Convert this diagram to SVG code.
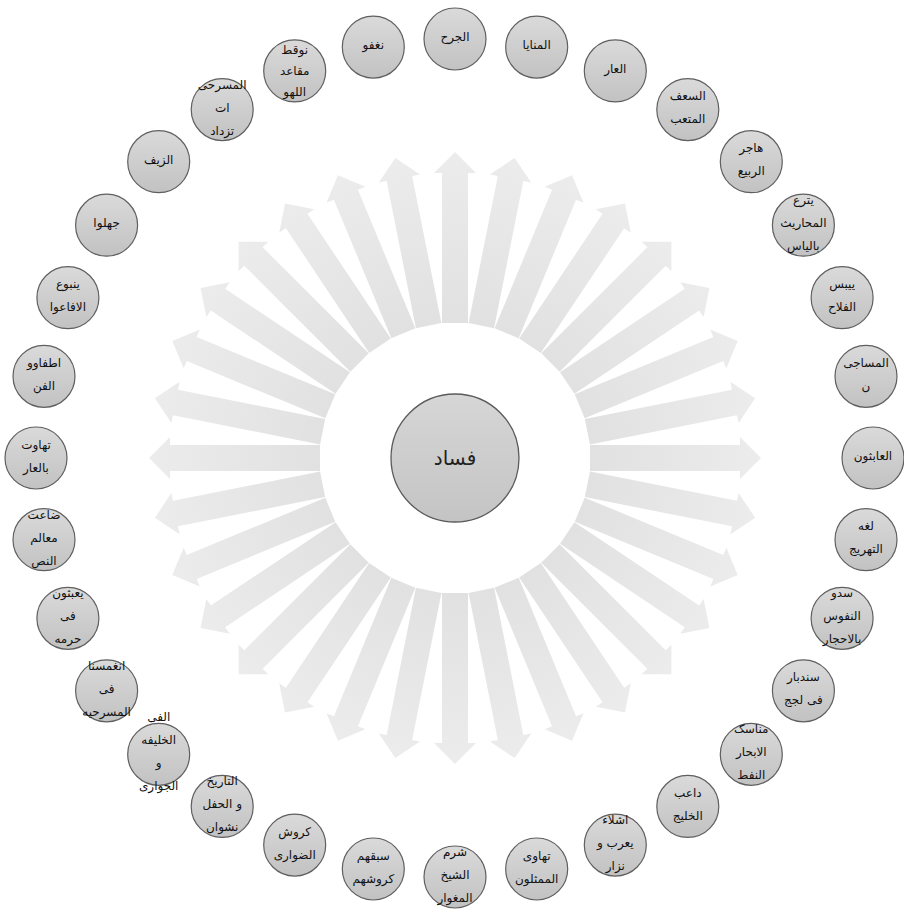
<svg xmlns="http://www.w3.org/2000/svg" xmlns:xlink="http://www.w3.org/1999/xlink" width="904" height="909" viewBox="0 0 904 909">
<style>
.n circle{fill:url(#ng);stroke:#5f5f5f;stroke-width:1.2}
.n text{font-family:"DejaVu Sans",sans-serif;font-size:12px;fill:#111;text-anchor:middle}
.c circle{fill:url(#cg);stroke:#5a5a5a;stroke-width:1.3}
.c text{font-family:"DejaVu Sans",sans-serif;font-size:20px;fill:#222;text-anchor:middle}
.ar{fill:url(#ag)}
</style>
<defs>
<linearGradient id="ng" x1="0" y1="0" x2="0" y2="1"><stop offset="0" stop-color="#dadada"/><stop offset="1" stop-color="#c2c2c2"/></linearGradient>
<linearGradient id="cg" x1="0" y1="0" x2="0" y2="1"><stop offset="0" stop-color="#d6d6d6"/><stop offset="1" stop-color="#c4c4c4"/></linearGradient>
<linearGradient id="ag" x1="0" y1="0" x2="0" y2="1"><stop offset="0" stop-color="#ececec"/><stop offset="1" stop-color="#e1e1e1"/></linearGradient>
<path id="arrow" class="ar" d="M-13,-135 L-13,-285 L-21,-285 L0,-306 L21,-285 L13,-285 L13,-135 Z"/>
</defs>
<rect width="904" height="909" fill="#fff"/>
<g id="connectors" transform="translate(455,458)">
<use xlink:href="#arrow" transform="rotate(0)"/>
<use xlink:href="#arrow" transform="rotate(11.25)"/>
<use xlink:href="#arrow" transform="rotate(22.5)"/>
<use xlink:href="#arrow" transform="rotate(33.75)"/>
<use xlink:href="#arrow" transform="rotate(45)"/>
<use xlink:href="#arrow" transform="rotate(56.25)"/>
<use xlink:href="#arrow" transform="rotate(67.5)"/>
<use xlink:href="#arrow" transform="rotate(78.75)"/>
<use xlink:href="#arrow" transform="rotate(90)"/>
<use xlink:href="#arrow" transform="rotate(101.25)"/>
<use xlink:href="#arrow" transform="rotate(112.5)"/>
<use xlink:href="#arrow" transform="rotate(123.75)"/>
<use xlink:href="#arrow" transform="rotate(135)"/>
<use xlink:href="#arrow" transform="rotate(146.25)"/>
<use xlink:href="#arrow" transform="rotate(157.5)"/>
<use xlink:href="#arrow" transform="rotate(168.75)"/>
<use xlink:href="#arrow" transform="rotate(180)"/>
<use xlink:href="#arrow" transform="rotate(191.25)"/>
<use xlink:href="#arrow" transform="rotate(202.5)"/>
<use xlink:href="#arrow" transform="rotate(213.75)"/>
<use xlink:href="#arrow" transform="rotate(225)"/>
<use xlink:href="#arrow" transform="rotate(236.25)"/>
<use xlink:href="#arrow" transform="rotate(247.5)"/>
<use xlink:href="#arrow" transform="rotate(258.75)"/>
<use xlink:href="#arrow" transform="rotate(270)"/>
<use xlink:href="#arrow" transform="rotate(281.25)"/>
<use xlink:href="#arrow" transform="rotate(292.5)"/>
<use xlink:href="#arrow" transform="rotate(303.75)"/>
<use xlink:href="#arrow" transform="rotate(315)"/>
<use xlink:href="#arrow" transform="rotate(326.25)"/>
<use xlink:href="#arrow" transform="rotate(337.5)"/>
<use xlink:href="#arrow" transform="rotate(348.75)"/>
</g>
<g id="center" class="c"><circle cx="455" cy="458" r="64"/><text x="455" y="465">فساد</text></g>
<g id="n0" class="n"><circle cx="455" cy="39" r="31"/><text x="455" y="41">الجرح</text></g>
<g id="n1" class="n"><circle cx="536.7" cy="47.1" r="31"/><text x="536.7" y="49">المنايا</text></g>
<g id="n2" class="n"><circle cx="615.3" cy="70.9" r="31"/><text x="615.3" y="73">العار</text></g>
<g id="n3" class="n"><circle cx="687.8" cy="109.6" r="31"/><text x="687.8" y="100">السعف</text><text x="687.8" y="123">المتعب</text></g>
<g id="n4" class="n"><circle cx="751.3" cy="161.7" r="31"/><text x="751.3" y="152">هاجر</text><text x="751.3" y="175">الربيع</text></g>
<g id="n5" class="n"><circle cx="803.4" cy="225.2" r="31"/><text x="803.4" y="204">يترع</text><text x="803.4" y="227">المحاريث</text><text x="803.4" y="250">بالياس</text></g>
<g id="n6" class="n"><circle cx="842.1" cy="297.7" r="31"/><text x="842.1" y="288">ييبس</text><text x="842.1" y="311">الفلاح</text></g>
<g id="n7" class="n"><circle cx="866" cy="376.3" r="31"/><text x="866" y="367">المساجی</text><text x="866" y="390">ن</text></g>
<g id="n8" class="n"><circle cx="873" cy="458" r="31"/><text x="873" y="460">العابثون</text></g>
<g id="n9" class="n"><circle cx="866" cy="539.7" r="31"/><text x="866" y="530">لغه</text><text x="866" y="553">التهريج</text></g>
<g id="n10" class="n"><circle cx="842.1" cy="618.3" r="31"/><text x="842.1" y="597">سدو</text><text x="842.1" y="620">النفوس</text><text x="842.1" y="643">بالاحجار</text></g>
<g id="n11" class="n"><circle cx="803.4" cy="690.8" r="31"/><text x="803.4" y="681">سندبار</text><text x="803.4" y="704">فی لجج</text></g>
<g id="n12" class="n"><circle cx="751.3" cy="754.3" r="31"/><text x="751.3" y="733">مناسک</text><text x="751.3" y="756">الابحار</text><text x="751.3" y="779">النفط</text></g>
<g id="n13" class="n"><circle cx="687.8" cy="806.4" r="31"/><text x="687.8" y="797">داعب</text><text x="687.8" y="820">الخليج</text></g>
<g id="n14" class="n"><circle cx="615.3" cy="845.1" r="31"/><text x="615.3" y="824">اشلاء</text><text x="615.3" y="847">يعرب و</text><text x="615.3" y="870">نزار</text></g>
<g id="n15" class="n"><circle cx="536.7" cy="869" r="31"/><text x="536.7" y="860">تهاوی</text><text x="536.7" y="883">الممثلون</text></g>
<g id="n16" class="n"><circle cx="455" cy="877" r="31"/><text x="455" y="856">شرم</text><text x="455" y="879">الشيخ</text><text x="455" y="902">المغوار</text></g>
<g id="n17" class="n"><circle cx="373.3" cy="869" r="31"/><text x="373.3" y="860">سبقهم</text><text x="373.3" y="883">کروشهم</text></g>
<g id="n18" class="n"><circle cx="294.7" cy="845.1" r="31"/><text x="294.7" y="836">کروش</text><text x="294.7" y="859">الضواری</text></g>
<g id="n19" class="n"><circle cx="222.2" cy="806.4" r="31"/><text x="222.2" y="785">التاريخ</text><text x="222.2" y="808">و الحفل</text><text x="222.2" y="831">نشوان</text></g>
<g id="n20" class="n"><circle cx="158.7" cy="754.3" r="31"/><text x="158.7" y="721">الفی</text><text x="158.7" y="744">الخليفه</text><text x="158.7" y="767">و</text><text x="158.7" y="790">الجواری</text></g>
<g id="n21" class="n"><circle cx="106.6" cy="690.8" r="31"/><text x="106.6" y="670">انغمسنا</text><text x="106.6" y="693">فی</text><text x="106.6" y="716">المسرحيه</text></g>
<g id="n22" class="n"><circle cx="67.9" cy="618.3" r="31"/><text x="67.9" y="597">يعبثون</text><text x="67.9" y="620">فی</text><text x="67.9" y="643">حرمه</text></g>
<g id="n23" class="n"><circle cx="44" cy="539.7" r="31"/><text x="44" y="519">ضاعت</text><text x="44" y="542">معالم</text><text x="44" y="565">النص</text></g>
<g id="n24" class="n"><circle cx="36" cy="458" r="31"/><text x="36" y="449">تهاوت</text><text x="36" y="472">بالعار</text></g>
<g id="n25" class="n"><circle cx="44" cy="376.3" r="31"/><text x="44" y="367">اطفاوو</text><text x="44" y="390">الفن</text></g>
<g id="n26" class="n"><circle cx="67.9" cy="297.7" r="31"/><text x="67.9" y="288">ينبوع</text><text x="67.9" y="311">الافاعوا</text></g>
<g id="n27" class="n"><circle cx="106.6" cy="225.2" r="31"/><text x="106.6" y="227">جهلوا</text></g>
<g id="n28" class="n"><circle cx="158.7" cy="161.7" r="31"/><text x="158.7" y="164">الزيف</text></g>
<g id="n29" class="n"><circle cx="222.2" cy="109.6" r="31"/><text x="222.2" y="89">المسرحی</text><text x="222.2" y="112">ات</text><text x="222.2" y="135">تزداد</text></g>
<g id="n30" class="n"><circle cx="294.7" cy="70.9" r="31"/><text x="294.7" y="54">نوقط</text><text x="294.7" y="75">مقاعد</text><text x="294.7" y="96">اللهو</text></g>
<g id="n31" class="n"><circle cx="373.3" cy="47.1" r="31"/><text x="373.3" y="49">نغفو</text></g>
</svg>
